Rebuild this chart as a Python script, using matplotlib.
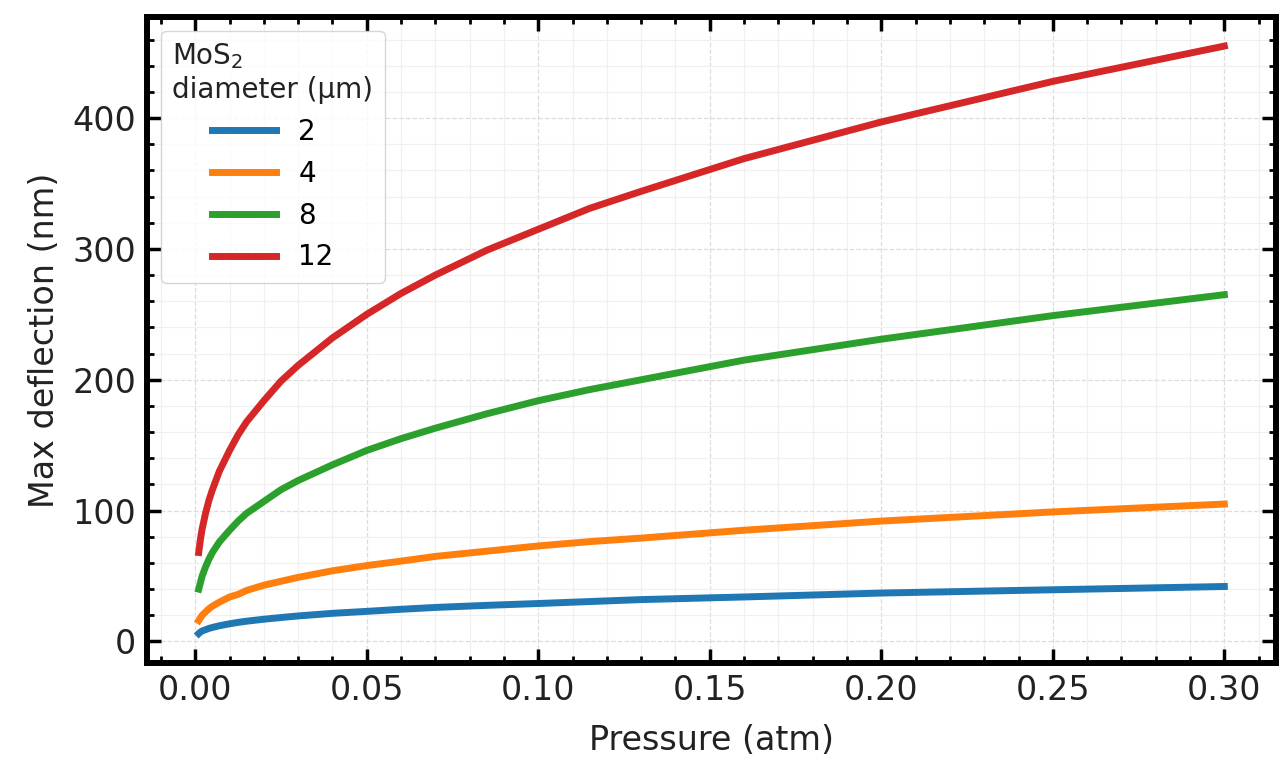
import matplotlib
matplotlib.use("Agg")
import matplotlib.pyplot as plt
from matplotlib.ticker import AutoMinorLocator, MultipleLocator, FormatStrFormatter

# pressure (atm) and max deflection (nm)
pressure = [0.001, 0.0015, 0.002, 0.003, 0.004, 0.005, 0.007, 0.01, 0.0125,
            0.015, 0.02, 0.025, 0.03, 0.04, 0.05, 0.06, 0.07, 0.085, 0.10,
            0.115, 0.13, 0.16, 0.20, 0.25, 0.30]
defl_2um = [6, 7.2, 8, 9, 10, 10.7, 12, 13.5, 14.6,
            15.5, 17, 18.3, 19.5, 21.5, 23, 24.6, 26, 27.6, 29,
            30.5, 32, 34, 37, 39.5, 42]
defl_4um = [16, 18, 20, 22.6, 25, 27, 30, 34, 36,
            39, 43, 46, 49, 54, 58, 61.4, 65, 69, 73,
            76.3, 79, 85, 92, 99, 105]
defl_8um = [40, 45, 50, 57, 63, 68, 76, 85, 92,
            98, 107, 116, 123, 135, 146, 155, 163, 174, 184,
            192.5, 200, 215, 231, 249, 265]
defl_12um = [68, 78, 86, 98, 108, 116, 130, 146, 158,
             168, 184, 199, 211, 232, 250, 266, 280, 299, 315,
             331, 344, 369, 397, 428, 455]

diameters = ["2", "4", "8", "12"]
series = [defl_2um, defl_4um, defl_8um, defl_12um]
colors = ["#1f77b4", "#ff7f0e", "#2ca02c", "#d62728"]

fig = plt.figure(figsize=(12.82, 7.59), dpi=100)
ax = fig.add_axes([0.115, 0.1265, 0.88, 0.8515])

for lab, vals, c in zip(diameters, series, colors):
    ax.plot(pressure, vals, color=c, lw=5, label=lab)

ax.xaxis.set_major_locator(MultipleLocator(0.05))
ax.xaxis.set_minor_locator(AutoMinorLocator(5))
ax.xaxis.set_major_formatter(FormatStrFormatter("%.2f"))
ax.yaxis.set_major_locator(MultipleLocator(100))
ax.yaxis.set_minor_locator(AutoMinorLocator(5))

ax.tick_params(which="both", direction="in", top=True, right=True,
               colors="black", labelcolor="#222222")
ax.tick_params(which="major", length=10, width=2.5, labelsize=24, pad=8)
ax.tick_params(which="minor", length=5, width=2)
for s in ax.spines.values():
    s.set_linewidth(4.3)

ax.grid(which="major", ls="--", color="#dddddd", lw=0.9)
ax.grid(which="minor", ls="-", color="#f0f0f0", lw=0.9)
ax.set_axisbelow(True)

ax.set_xlabel("Pressure (atm)", fontsize=24, color="#222222", labelpad=12)
ax.set_ylabel("Max deflection (nm)", fontsize=24, color="#222222", labelpad=8)

leg = ax.legend(title="MoS$_2$\ndiameter (µm)", loc="upper left",
                fontsize=20, title_fontsize=20, handlelength=2.3)
leg.get_title().set_color("#222222")

fig.savefig("out.png", dpi=100)
